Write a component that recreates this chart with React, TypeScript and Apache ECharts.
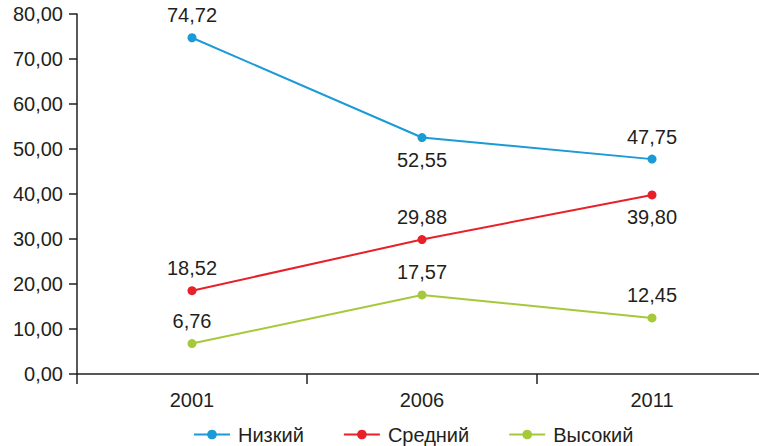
import React, { useEffect, useRef } from "react";
import * as echarts from "echarts";

const categories = ["2001", "2006", "2011"];
const seriesNames = ["Низкий", "Средний", "Высокий"];
const lowValues = [74.72, 52.55, 47.75];
const midValues = [18.52, 29.88, 39.8];
const highValues = [6.76, 17.57, 12.45];
const lowLabelPos = ["top", "bottom", "top"];
const midLabelPos = ["top", "top", "bottom"];
const highLabelPos = ["top", "top", "top"];
const colors = ["#1a9ad6", "#e8202a", "#a5c93a"];

const FONT = "'Liberation Sans', Arial, sans-serif";
const TEXT = "#231f20";
const fmt = (v: number) => v.toFixed(2).replace(".", ",");

export default function App() {
  const ref = useRef<HTMLDivElement>(null);
  useEffect(() => {
    if (!ref.current) return;
    const chart = echarts.init(ref.current, undefined, { renderer: "svg" });
    const mk = (name: string, vals: number[], pos: string[], color: string) => ({
      name,
      type: "line",
      data: vals.map((v, i) => ({
        value: v,
        label: { position: pos[i] },
      })),
      symbol: "circle",
      symbolSize: 9,
      lineStyle: { color, width: 2 },
      itemStyle: { color },
      label: {
        show: true,
        distance: 8,
        formatter: (p: any) => fmt(p.value),
        fontFamily: FONT,
        fontSize: 20,
        color: TEXT,
      },
    });
    chart.setOption({
      animation: false,
      textStyle: { fontFamily: FONT },
      grid: { left: 77, right: 0, top: 14, bottom: 72, containLabel: false },
      legend: {
        left: 193,
        top: 424,
        padding: 0,
        itemWidth: 36,
        itemHeight: 12,
        itemGap: 39,
        textStyle: {
          fontFamily: FONT,
          fontSize: 20,
          lineHeight: 21,
          color: TEXT,
          padding: [0, 0, 0, 3],
        },
        data: seriesNames,
      },
      xAxis: {
        type: "category",
        data: categories,
        boundaryGap: true,
        axisLine: { lineStyle: { color: TEXT, width: 1.5 } },
        axisTick: { show: true, length: 10, lineStyle: { color: TEXT, width: 1.5 } },
        axisLabel: { fontFamily: FONT, fontSize: 20, color: TEXT, margin: 16 },
        splitLine: { show: false },
      },
      yAxis: {
        type: "value",
        min: 0,
        max: 80,
        interval: 10,
        axisLine: { show: true, lineStyle: { color: TEXT, width: 1.5 } },
        axisTick: { show: true, length: 8, lineStyle: { color: TEXT, width: 1.5 } },
        axisLabel: {
          fontFamily: FONT,
          fontSize: 20,
          color: TEXT,
          margin: 14,
          formatter: (v: number) => fmt(v),
        },
        splitLine: { show: false },
      },
      series: [
        mk(seriesNames[0], lowValues, lowLabelPos, colors[0]),
        mk(seriesNames[1], midValues, midLabelPos, colors[1]),
        mk(seriesNames[2], highValues, highLabelPos, colors[2]),
      ],
    });
    return () => chart.dispose();
  }, []);
  return (
    <div style={{ position: "absolute", left: 0, top: 0, width: 759, height: 446, overflow: "hidden" }}>
      <div ref={ref} style={{ width: 767, height: 446 }} />
    </div>
  );
}
